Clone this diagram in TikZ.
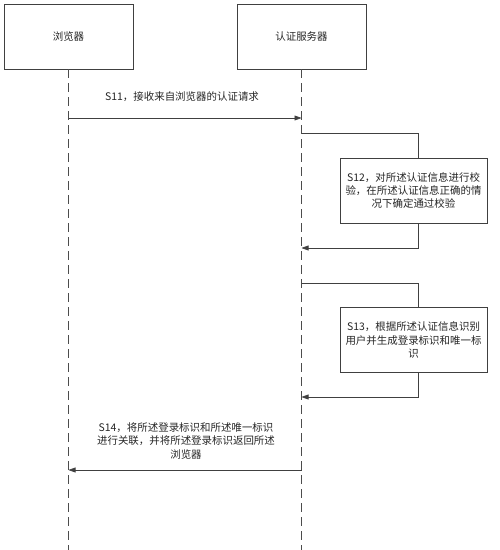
\documentclass[tikz,border=0pt]{standalone}
\usepackage{fontspec}
\newfontfamily\cjk{Noto Sans CJK SC}
\usetikzlibrary{arrows.meta}
\begin{document}
\begin{tikzpicture}[x=1bp,y=-1bp,
  every node/.style={font=\cjk\fontsize{10.5}{13.5}\selectfont, text=black!85},
  actor/.style={draw=black!75, line width=0.6bp, minimum width=129bp, minimum height=65bp, inner sep=0pt},
  stepbox/.style={draw=black!75, line width=0.6bp, fill=white, minimum width=147bp, minimum height=65bp, align=center, inner sep=1bp},
  life/.style={draw=black!70, line width=0.6bp, dash pattern=on 9bp off 5bp},
  msg/.style={draw=black!75, line width=0.6bp, -{Triangle[length=7bp,width=5bp]}},
  loopline/.style={draw=black!75, line width=0.6bp},
  lbl/.style={align=center}]
\useasboundingbox (0,0) rectangle (500,550);
\node[actor] (br) at (68.5,36.5) {浏览器};
\node[actor] (sv) at (301.5,36.5) {认证服务器};
\coordinate (brend) at (68.5,550);
\coordinate (svend) at (301.5,550);
\draw[life] (br.south) -- (brend);
\draw[life] (sv.south) -- (svend);
% S11
\coordinate (a1) at (68.5,118);
\coordinate (b1) at (301.5,118);
\draw[msg] (a1) -- (b1);
\node[lbl] (l1) at (182,97) {S11，接收来自浏览器的认证请求};
% S12
\node[stepbox] (s12) at (413.5,190.5) {S12，对所述认证信息进行校\\验，在所述认证信息正确的情\\况下确定通过校验};
\coordinate (c1) at (301.5,133);
\coordinate (c2) at (418,133);
\coordinate (c3) at (418,158);
\coordinate (c4) at (418,223);
\coordinate (c5) at (418,248);
\coordinate (c6) at (301.5,248);
\draw[loopline] (c1) -- (c2) -- (c3);
\draw[msg] (c4) -- (c5) -- (c6);
% S13
\node[stepbox] (s13) at (413.5,340) {S13，根据所述认证信息识别\\用户并生成登录标识和唯一标\\识};
\coordinate (d1) at (301.5,283);
\coordinate (d2) at (418,283);
\coordinate (d3) at (418,307.5);
\coordinate (d4) at (418,372.5);
\coordinate (d5) at (418,397);
\coordinate (d6) at (301.5,397);
\draw[loopline] (d1) -- (d2) -- (d3);
\draw[msg] (d4) -- (d5) -- (d6);
% S14
\coordinate (e1) at (301.5,470);
\coordinate (e2) at (68.5,470);
\draw[msg] (e1) -- (e2);
\node[lbl] (l4) at (186,441) {S14，将所述登录标识和所述唯一标识\\进行关联，并将所述登录标识返回所述\\浏览器};
\end{tikzpicture}
\end{document}
